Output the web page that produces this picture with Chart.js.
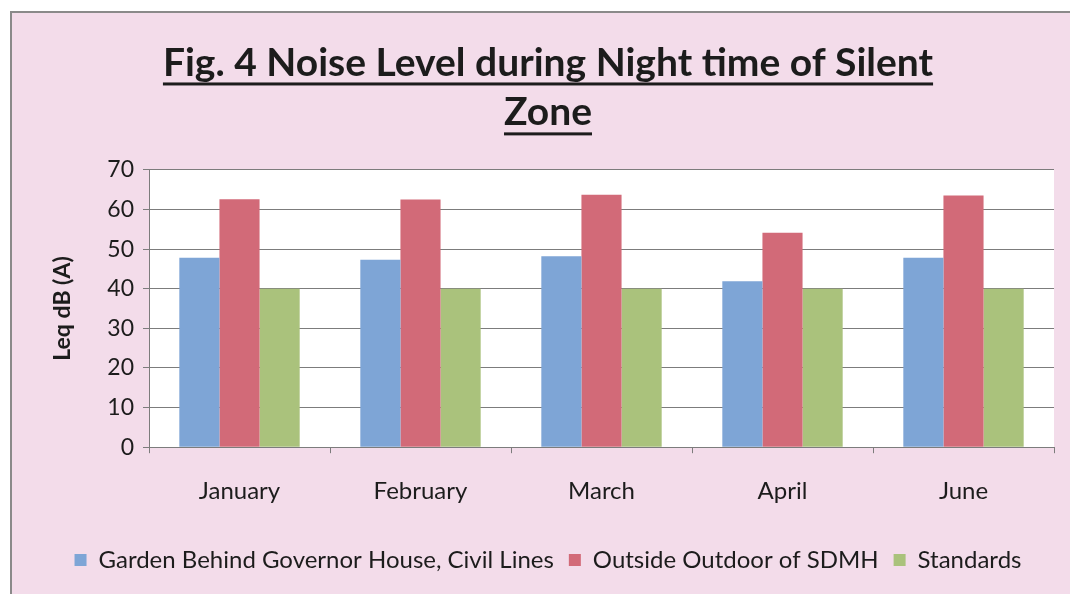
<!DOCTYPE html>
<html>
<head>
<meta charset="utf-8">
<script src="https://cdn.jsdelivr.net/npm/chart.js@4.4.0/dist/chart.umd.min.js"></script>
<style>
  html, body { margin:0; padding:0; background:#ffffff; overflow:hidden; width:1070px; height:594px; }
  #frame { position:absolute; left:10px; top:11px; width:1090px; height:600px; background:#f3dcea; border-left:2px solid #8a8a8a; border-top:2px solid #8a8a8a; }
  #c { position:absolute; left:-1px; top:-1px; }
</style>
</head>
<body>
<div id="frame"><canvas id="c" width="1074" height="582"></canvas></div>
<script>
const categories = ['January', 'February', 'March', 'April', 'June'];
const gardenValues = [47.8, 47.3, 48.2, 41.9, 47.8];
const sdmhValues = [62.6, 62.5, 63.7, 54.1, 63.5];
const standardValues = [40, 40, 40, 40, 40];
const seriesNames = ['Garden Behind Governor House, Civil Lines', 'Outside Outdoor of SDMH', 'Standards'];
const titleLines = ['Fig. 4 Noise Level during Night time of Silent', 'Zone'];
const yAxisTitle = 'Leq dB (A)';
const yMin = 0, yMax = 70, yStep = 10;

const FONT = 'Lato, "Open Sans", sans-serif';
const gridGray = '#7c7c7c';
const textColor = '#1c1c1c';

const plotBg = {
  id: 'plotBg',
  beforeDraw(chart) {
    const {ctx, chartArea: a} = chart;
    ctx.save();
    ctx.fillStyle = '#ffffff';
    ctx.fillRect(a.left, a.top, a.right - a.left, a.bottom - a.top);
    ctx.restore();
  }
};

const titleUnderline = {
  id: 'titleUnderline',
  afterDraw(chart) {
    const tb = chart.titleBlock;
    if (!tb) return;
    const opts = tb.options;
    const ctx = chart.ctx;
    const size = opts.font.size;
    const lh = opts.font.lineHeight * size;
    const cx = tb.left + tb.width / 2;
    ctx.save();
    ctx.font = 'bold ' + size + 'px ' + FONT;
    ctx.fillStyle = textColor;
    titleLines.forEach((line, i) => {
      const w = ctx.measureText(line).width;
      const midY = tb.top + opts.padding.top + lh / 2 + i * lh;
      ctx.fillRect(cx - w / 2, midY + size * 0.5, w, 3);
    });
    ctx.restore();
  }
};

new Chart(document.getElementById('c'), {
  type: 'bar',
  data: {
    labels: categories,
    datasets: [
      { label: seriesNames[0], data: gardenValues, backgroundColor: '#7ea5d6' },
      { label: seriesNames[1], data: sdmhValues, backgroundColor: '#d26a78' },
      { label: seriesNames[2], data: standardValues, backgroundColor: '#aac27c' }
    ]
  },
  options: {
    responsive: false,
    animation: false,
    devicePixelRatio: 1,
    categoryPercentage: 0.665,
    barPercentage: 1.0,
    layout: { padding: { left: 0, right: 0, top: 0, bottom: 12 } },
    plugins: {
      title: {
        display: true,
        text: titleLines,
        color: textColor,
        font: { family: FONT, size: 39, weight: 'bold', lineHeight: 1.28 },
        padding: { top: 26, bottom: 32 }
      },
      legend: {
        position: 'bottom',
        labels: {
          color: textColor,
          font: { family: FONT, size: 24 },
          boxWidth: 12,
          boxHeight: 12,
          padding: 15
        }
      },
      tooltip: { enabled: false }
    },
    scales: {
      x: {
        afterFit(scale) { scale.height += 3; },
        grid: { display: true, drawOnChartArea: false, drawTicks: true, tickLength: 6, color: gridGray, offset: true },
        border: { display: true, color: gridGray, width: 1 },
        ticks: { color: textColor, font: { family: FONT, size: 24 }, padding: 24 }
      },
      y: {
        min: yMin, max: yMax,
        afterFit(scale) { scale.width = 138; },
        ticks: { stepSize: yStep, color: textColor, font: { family: FONT, size: 23 }, padding: 9 },
        grid: { color: gridGray, tickLength: 6, lineWidth: 1 },
        border: { display: true, color: gridGray, width: 1 },
        title: { display: true, text: yAxisTitle, color: textColor, font: { family: FONT, size: 23, weight: 'bold' }, padding: { top: 38, bottom: 0 } }
      },
      yRightSpacer: {
        position: 'right',
        min: yMin, max: yMax,
        afterFit(scale) { scale.width = 31; },
        ticks: { display: false },
        grid: { display: false, drawOnChartArea: false },
        border: { display: false }
      }
    }
  },
  plugins: [plotBg, titleUnderline]
});
</script>
</body>
</html>
